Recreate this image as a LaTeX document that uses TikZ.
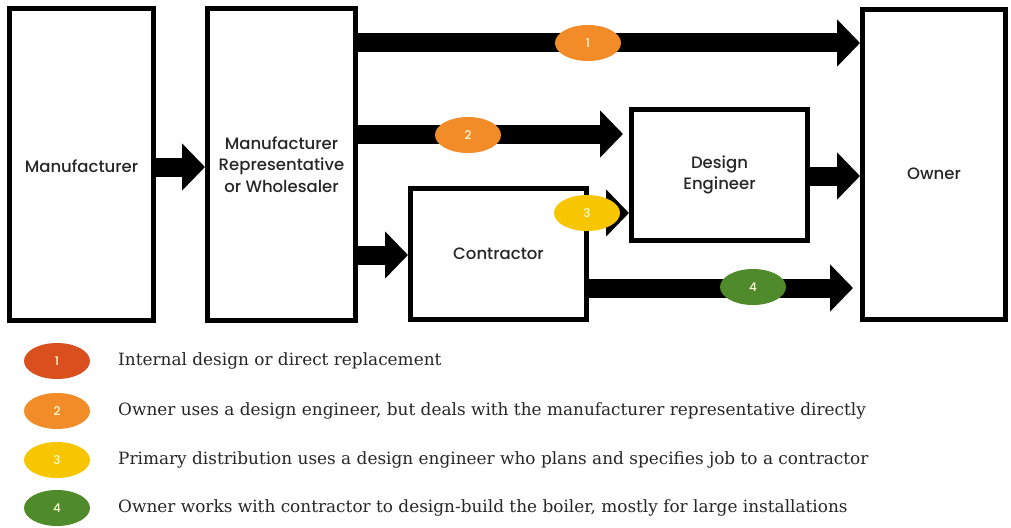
\documentclass[tikz,border=0pt]{standalone}
\usepackage{fontspec}
\newfontfamily\boxfont{Poppins Medium}
\newfontfamily\legendfont{DejaVu Serif}
\usetikzlibrary{arrows.meta, shapes.geometric}
\definecolor{badgered}{HTML}{D9501E}
\definecolor{badgeorange}{HTML}{F28C28}
\definecolor{badgeyellow}{HTML}{F7C600}
\definecolor{badgegreen}{HTML}{4F8A2B}
\definecolor{legendtext}{HTML}{262626}
\begin{document}
\begin{tikzpicture}[x=1pt, y=-1pt,
		party/.style={draw, line width=5pt, inner sep=0pt, align=center, text=black!85, font=\boxfont\fontsize{16.5}{21.5}\selectfont},
		flow/.style={line width=19pt, -{Triangle[width=46pt, length=23pt]}},
		badge/.style={ellipse, minimum width=66pt, minimum height=36pt, inner sep=0pt, text=white!85!yellow, font=\boxfont\fontsize{12}{12}\selectfont},
		legend/.style={anchor=west, inner sep=0pt, text=legendtext, font=\legendfont\fontsize{16.9}{16.9}\selectfont}]
		\useasboundingbox (0,0) rectangle (1011,527);
		% boxes
		\node[party, minimum width=144pt, minimum height=312pt] (manu) at (81.5,164.5) {\raisebox{-8pt}[0pt][0pt]{Manufacturer}};
		\node[party, minimum width=148pt, minimum height=312pt] (rep) at (281.5,164.5) {Manufacturer\\Representative\\or Wholesaler};
		\node[party, minimum width=143pt, minimum height=310pt] (owner) at (934,164.5) {\raisebox{-15pt}[0pt][0pt]{Owner}};
		\node[party, minimum width=176pt, minimum height=131pt] (des) at (719.5,175) {Design\\Engineer};
		\node[party, minimum width=176pt, minimum height=131pt] (con) at (498.5,254) {Contractor};
		% channels
		\draw[flow] (manu.east |- 0,167) -- (rep.west |- 0,167);
		\draw[flow] (rep.east |- 0,43) -- (owner.west |- 0,43);
		\draw[flow, shorten >=6pt] (rep.east |- 0,134) -- (des.west |- 0,134);
		\draw[flow] (rep.east |- 0,255) -- (con.west |- 0,255);
		\draw[flow] (con.east |- 0,213) -- (des.west |- 0,213);
		\draw[flow] (des.east |- 0,176) -- (owner.west |- 0,176);
		\draw[flow, shorten >=7pt] (con.east |- 0,288) -- (owner.west |- 0,288);
		\node[badge, fill=badgeorange] (b1) at (588,43) {1};
		\node[badge, fill=badgeorange] (b2) at (468,135) {2};
		\node[badge, fill=badgeyellow] (b3) at (587,213) {3};
		\node[badge, fill=badgegreen] (b4) at (753,287) {4};
		% legend
		\node[badge, fill=badgered] (k1) at (57,361) {1};
		\node[legend] (t1) at (118,361) {Internal design or direct replacement};
		\node[badge, fill=badgeorange] (k2) at (57,411) {2};
		\node[legend] (t2) at (118,411) {Owner uses a design engineer, but deals with the manufacturer representative directly};
		\node[badge, fill=badgeyellow] (k3) at (57,460) {3};
		\node[legend] (t3) at (118,460) {Primary distribution uses a design engineer who plans and specifies job to a contractor};
		\node[badge, fill=badgegreen] (k4) at (57,508) {4};
		\node[legend] (t4) at (118,508) {Owner works with contractor to design-build the boiler, mostly for large installations};
	\end{tikzpicture}
\end{document}
